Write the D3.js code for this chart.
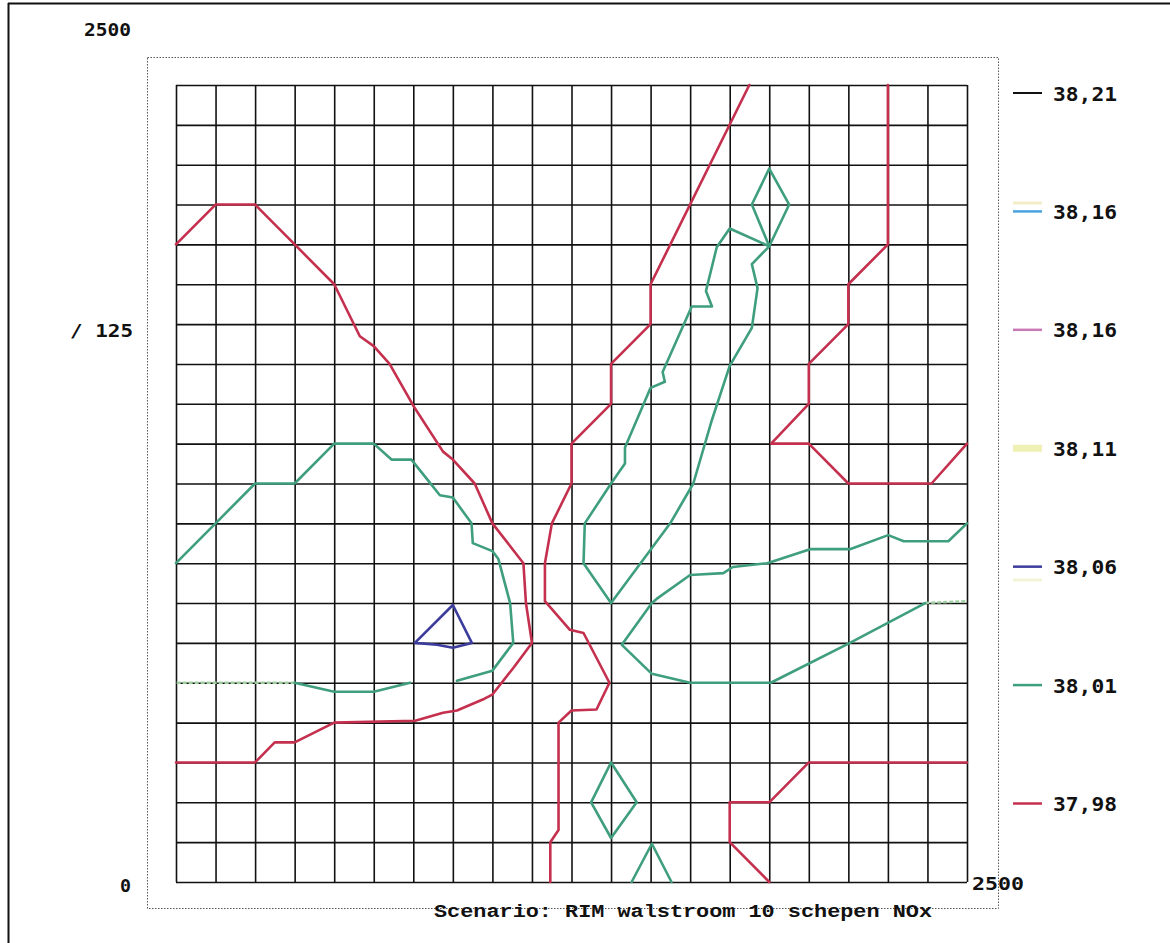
<!DOCTYPE html>
<html><head><meta charset="utf-8">
<script src="https://cdn.jsdelivr.net/npm/d3@7"></script>
<style>html,body{margin:0;padding:0;background:#fff;} svg{display:block}</style>
</head><body>
<svg id="c" width="1170" height="943"></svg>
<script>
// ---- data (model coordinates 0..2500) ----
const domainMax = 2500;
const gridStep = 125;
const cornerLabels = ["2500", "/ 125", "0", "2500"];
const titleText = "Scenario: RIM walstroom 10 schepen NOx";
const legendLevels = ["38,21", "38,16", "38,16", "38,11", "38,06", "38,01", "37,98"];
const legendColors = ["#111111", "#4aa3e0", "#c87ab4", "#eef0b4", "#3c3c9c", "#3f9e7e", "#c4304e"];

const red_a = [[0,2000],[125,2125],[250,2125],[375,2000],[500,1875],[581,1712],[625,1681],[675,1625],[750,1494],[844,1350],[875,1325],[944,1250],[1000,1125],[1098,1000],[1106,875],[1125,750],[1069,675],[1000,588],[975,575],[888,538],[844,531],[756,506],[500,500],[375,438],[312,438],[250,375],[0,375]];
const red_b = [[1183,0],[1183,125],[1209,163],[1209,500],[1250,538],[1329,541],[1370,625],[1288,781],[1245,791],[1166,881],[1166,1000],[1188,1125],[1250,1250],[1250,1375],[1375,1500],[1375,1625],[1500,1750],[1500,1875],[1812,2500]];
const red_c = [[2250,2500],[2250,2000],[2125,1875],[2125,1750],[2000,1625],[2000,1500],[1881,1375],[2000,1375],[2125,1250],[2388,1250],[2500,1375]];
const red_d = [[2500,375],[2000,375],[1875,250],[1750,250],[1750,125],[1875,0]];

const green_a1 = [[0,1000],[125,1125],[250,1250],[375,1250],[500,1375],[625,1375],[681,1325],[744,1325],[794,1263],[834,1213],[875,1206],[934,1125],[938,1063],[1000,1038],[1019,1013],[1056,875],[1066,750],[1000,663],[888,631]];
const green_a2 = [[740,625],[625,597],[500,597],[375,625]];
const green_a2faint = [[375,625],[0,625]];
const green_c = [[1375,875],[1288,1000],[1292,1125],[1375,1250],[1419,1313],[1419,1363],[1500,1550],[1545,1569],[1538,1600],[1630,1805],[1694,1805],[1675,1854],[1709,1991],[1750,2050],[1875,1994],[1820,1938],[1838,1863],[1820,1738],[1750,1619],[1694,1450],[1635,1250],[1562,1125],[1375,875]];
const green_top = [[1875,2238],[1938,2125],[1875,1994],[1820,2125],[1875,2238]];
const green_de = [[2500,1125],[2441,1069],[2300,1069],[2251,1088],[2130,1044],[2004,1044],[1888,1006],[1868,1000],[1760,988],[1730,969],[1625,963],[1519,888],[1504,875],[1409,744],[1504,653],[1625,625],[1880,625],[2130,750],[2368,875]];
const green_defaint = [[2368,875],[2500,881]];
const green_f = [[1375,375],[1456,250],[1375,138],[1312,250],[1375,375]];
const green_g = [[1440,0],[1504,120],[1566,0]];
const blue_a = [[755,750],[875,869],[935,750],[875,735],[825,744],[755,750]];

// ---- drawing ----
const svg = d3.select("#c");
const W = 1170, H = 943;
const L = 176, R = 967, T = 85, B = 882;
const x = d3.scaleLinear().domain([0, domainMax]).range([L, R]);
const y = d3.scaleLinear().domain([0, domainMax]).range([B, T]);
const gridTicks = d3.range(0, domainMax + 1, gridStep);

svg.append("rect").attr("width", W).attr("height", H).attr("fill", "#fff");
// page border
svg.append("line").attr("x1", 8.5).attr("x2", 8.5).attr("y1", 3).attr("y2", H).attr("stroke", "#111").attr("stroke-width", 2);
svg.append("line").attr("x1", 8).attr("x2", W).attr("y1", 3.5).attr("y2", 3.5).attr("stroke", "#111").attr("stroke-width", 2);

// dotted frame
svg.append("rect").attr("x", 147.5).attr("y", 57.5).attr("width", 851).attr("height", 851)
  .attr("fill", "none").attr("stroke", "#555").attr("stroke-width", 1).attr("stroke-dasharray", "1.5,1.5");

// grid via axes
const gx = svg.append("g").attr("transform", `translate(0,${B})`)
  .call(d3.axisBottom(x).tickValues(gridTicks).tickSize(-(B - T)).tickFormat(""));
const gy = svg.append("g").attr("transform", `translate(${L},0)`)
  .call(d3.axisLeft(y).tickValues(gridTicks).tickSize(-(R - L)).tickFormat(""));
[gx, gy].forEach(g => {
  g.select(".domain").remove();
  g.selectAll(".tick line").attr("stroke", "#111").attr("stroke-width", 1.6);
});

// contours
const line = d3.line().x(d => x(d[0])).y(d => y(d[1]));
const red = legendColors[6], green = legendColors[5], blue = legendColors[4];
const contours = [
  {d: red_a, c: red}, {d: red_b, c: red}, {d: red_c, c: red}, {d: red_d, c: red},
  {d: green_a1, c: green}, {d: green_a2, c: green}, {d: green_c, c: green}, {d: green_top, c: green},
  {d: green_de, c: green}, {d: green_f, c: green}, {d: green_g, c: green}, {d: blue_a, c: blue}
];
const faint = [green_a2faint, green_defaint];
faint.forEach(d => svg.append("path").attr("d", line(d)).attr("fill", "none")
  .attr("stroke", "#9fcfa0").attr("stroke-width", 2.5).attr("stroke-dasharray", "4,2"));
contours.forEach(o => svg.append("path").attr("d", line(o.d)).attr("fill", "none")
  .attr("stroke", o.c).attr("stroke-width", 2.6).attr("stroke-linejoin", "round").attr("stroke-linecap", "round"));

// corner labels
const numFont = "'DejaVu Sans Mono', monospace";
const lab = (t, xx, yy, anchor, size, len) => {
  const e = svg.append("text").text(t).attr("x", xx).attr("y", yy).attr("text-anchor", anchor)
    .attr("font-family", numFont).attr("font-weight", "bold").attr("font-size", size)
    .attr("dominant-baseline", "central").attr("fill", "#111");
  if (len) e.attr("textLength", len).attr("lengthAdjust", "spacingAndGlyphs");
  return e;
};
lab(cornerLabels[0], 84, 30, "start", 17, 47);
lab(cornerLabels[1], 70, 331, "start", 17, 63);
lab(cornerLabels[2], 120, 885, "start", 18, 11);
lab(cornerLabels[3], 972, 884, "start", 17, 52);

// title
svg.append("text").text(titleText).attr("x", 434).attr("y", 917)
  .attr("font-family", "'Liberation Mono', 'Courier New', monospace").attr("font-weight", "bold")
  .attr("font-size", 19).attr("textLength", 498).attr("lengthAdjust", "spacingAndGlyphs").attr("fill", "#111");

// legend
const legY = d3.scaleLinear().domain([0, legendLevels.length - 1]).range([93, 803.5]);
legendLevels.forEach((t, i) => {
  const yy = legY(i);
  const sw = (i === 3) ? 7 : (i === 0 ? 2 : 2.5);
  svg.append("line").attr("x1", 1013).attr("x2", 1042).attr("y1", yy).attr("y2", yy)
    .attr("stroke", legendColors[i]).attr("stroke-width", sw);
  lab(t, 1053, yy + 0.5, "start", 20, 64);
});
// faint yellow accents near legend swatches
svg.append("line").attr("x1", 1013).attr("x2", 1042).attr("y1", 203).attr("y2", 203).attr("stroke", "#f3ecc8").attr("stroke-width", 3);
svg.append("line").attr("x1", 1013).attr("x2", 1042).attr("y1", 580).attr("y2", 580).attr("stroke", "#f3f3d8").attr("stroke-width", 3);
</script></body></html>
